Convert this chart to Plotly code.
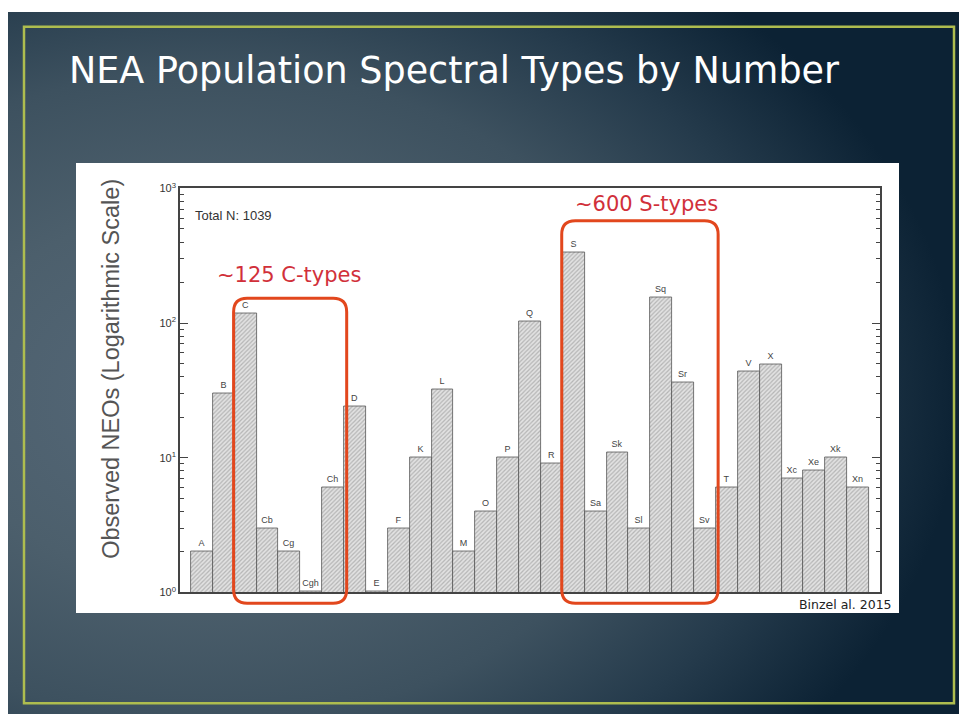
import plotly.graph_objects as go

# ---------------- data ----------------
categories = ["A", "B", "C", "Cb", "Cg", "Cgh", "Ch", "D", "E", "F", "K", "L", "M", "O",
              "P", "Q", "R", "S", "Sa", "Sk", "Sl", "Sq", "Sr", "Sv", "T", "V", "X",
              "Xc", "Xe", "Xk", "Xn"]
counts = [2, 30, 117, 3, 2, 1.02, 6, 24, 1.02, 3, 10, 32, 2, 4,
          10, 103, 9, 337, 4, 11, 3, 155, 36, 3, 6, 44, 49,
          7, 8, 10, 6]
major_ticks = [1, 10, 100, 1000]
major_labels = ["10<sup>0</sup>", "10<sup>1</sup>", "10<sup>2</sup>", "10<sup>3</sup>"]
minor_ticks = [2, 3, 4, 5, 6, 7, 8, 9, 20, 30, 40, 50, 60, 70, 80, 90,
               200, 300, 400, 500, 600, 700, 800, 900]

W, H = 959, 720
def px(x):
    return x / W
def py(y):
    return 1 - y / H

fig = go.Figure()

# ---------- slide background (gradient) on background axes ----------
fig.add_trace(go.Scatter(
    x=[-0.56, 1.0, 1.0, -0.56, -0.56], y=[-0.32, -0.32, 1.22, 1.22, -0.32],
    mode="lines", line=dict(width=0), fill="toself",
    fillgradient=dict(type="radial",
                      colorscale=[[0, "#56697a"], [0.35, "#4c5f6c"], [0.6, "#3d515f"],
                                  [0.8, "#253b4c"], [1, "#0c2234"]]),
    hoverinfo="skip", showlegend=False, xaxis="x", yaxis="y"))

# white panel behind the chart
fig.add_trace(go.Scatter(
    x=[px(76), px(899), px(899), px(76), px(76)],
    y=[py(617), py(617), py(158), py(158), py(617)],
    mode="lines", line=dict(width=0), fill="toself", fillcolor="white",
    hoverinfo="skip", showlegend=False, xaxis="x", yaxis="y"))

# ---------------- bars ----------------
fig.add_trace(go.Bar(
    x=categories, y=counts, text=categories, textposition="outside",
    textfont=dict(size=9, color="#444444", family="Liberation Sans, Arial"),
    constraintext="none", cliponaxis=False, width=1,
    marker=dict(color="#dedede",
                line=dict(color="#555555", width=0.8),
                pattern=dict(shape="/", fgcolor="#888888", bgcolor="#e2e2e2",
                             size=3, solidity=0.4)),
    hoverinfo="skip", showlegend=False, xaxis="x2", yaxis="y2"))

# chart domain in pixels
X0, X1, Y0, Y1 = 180, 880, 184, 596

shapes = []
# white strips at top/left edge of the image
shapes.append(dict(type="rect", xref="paper", yref="paper", x0=0, x1=px(8), y0=0, y1=1,
                   fillcolor="white", line=dict(width=0), layer="above"))
shapes.append(dict(type="rect", xref="paper", yref="paper", x0=0, x1=1, y0=py(4), y1=1,
                   fillcolor="white", line=dict(width=0), layer="above"))
# yellow frame
shapes.append(dict(type="rect", xref="paper", yref="paper", x0=px(24), x1=px(954),
                   y0=py(709), y1=py(19), line=dict(color="#aebd4f", width=2.5),
                   fillcolor="rgba(0,0,0,0)", layer="above"))

# rounded red boxes (x in bar-index units, y in y2-domain units)
def rounded(xa, xb, ya, yb, rx=0.62, ry=0.034):
    return (f"M {xa+rx},{ya} L {xb-rx},{ya} Q {xb},{ya} {xb},{ya+ry} "
            f"L {xb},{yb-ry} Q {xb},{yb} {xb-rx},{yb} L {xa+rx},{yb} "
            f"Q {xa},{yb} {xa},{yb-ry} L {xa},{ya+ry} Q {xa},{ya} {xa+rx},{ya} Z")

iC0, iC1 = categories.index("C"), categories.index("Ch")
iS0, iS1 = categories.index("S"), categories.index("Sv")
for a, b, top in [(iC0 - 0.55, iC1 + 0.62, 0.728), (iS0 - 0.55, iS1 + 0.6, 0.92)]:
    shapes.append(dict(type="path", xref="x2", yref="y2 domain",
                       path=rounded(a, b, -0.027, top),
                       line=dict(color="#e2471d", width=3), layer="above"))

annotations = [
    dict(text="NEA Population Spectral Types by Number", x=px(67), y=py(64),
         xref="paper", yref="paper", xanchor="left", yanchor="middle", showarrow=False,
         font=dict(family="DejaVu Sans", size=36.5, color="white")),
    dict(text="Observed NEOs (Logarithmic Scale)", x=px(111), y=py(368),
         xref="paper", yref="paper", xanchor="center", yanchor="middle", showarrow=False,
         textangle=-90, font=dict(family="Liberation Sans, Arial", size=23.5, color="#555555")),
    dict(text="Total N: 1039", x=px(193), y=py(212), xref="paper", yref="paper",
         xanchor="left", yanchor="middle", showarrow=False,
         font=dict(family="Liberation Sans, Arial", size=13, color="#333333")),
    dict(text="~125 C-types", x=px(289), y=py(272), xref="paper", yref="paper",
         xanchor="center", yanchor="middle", showarrow=False,
         font=dict(family="DejaVu Sans", size=21, color="#d1303a")),
    dict(text="~600 S-types", x=px(646), y=py(200), xref="paper", yref="paper",
         xanchor="center", yanchor="middle", showarrow=False,
         font=dict(family="DejaVu Sans", size=21, color="#d1303a")),
    dict(text="Binzel al. 2015", x=px(894), y=py(608), xref="paper", yref="paper",
         xanchor="right", yanchor="middle", showarrow=False,
         font=dict(family="DejaVu Sans", size=12.5, color="#222222")),
]

fig.update_layout(
    width=W, height=H, margin=dict(l=0, r=0, t=0, b=0),
    paper_bgcolor="white", plot_bgcolor="rgba(0,0,0,0)",
    showlegend=False, bargap=0,
    xaxis=dict(domain=[0, 1], range=[0, 1], visible=False, fixedrange=True),
    yaxis=dict(domain=[0, 1], range=[0, 1], visible=False, fixedrange=True),
    xaxis2=dict(domain=[px(X0), px(X1)], range=[-1, len(categories)], anchor="y2",
                showticklabels=False, ticks="", showgrid=False, zeroline=False,
                showline=True, linecolor="#444444", linewidth=1.6, mirror=True),
    yaxis2=dict(domain=[py(Y1), py(Y0)], type="log", range=[0, 3], anchor="x2",
                tickmode="array", tickvals=major_ticks, ticktext=major_labels,
                ticks="inside", ticklen=8, tickcolor="#444444", tickwidth=1,
                tickfont=dict(family="Liberation Sans, Arial", size=11, color="#333333"),
                minor=dict(tickmode="array", tickvals=minor_ticks, ticks="inside",
                           ticklen=4, tickcolor="#444444", showgrid=False),
                showgrid=False, zeroline=False,
                showline=True, linecolor="#444444", linewidth=1.6, mirror="ticks"),
    shapes=shapes, annotations=annotations,
)

fig.write_html("out.html", config={"displayModeBar": False},
               post_script="document.body.style.margin='0';document.body.style.overflow='hidden';")
